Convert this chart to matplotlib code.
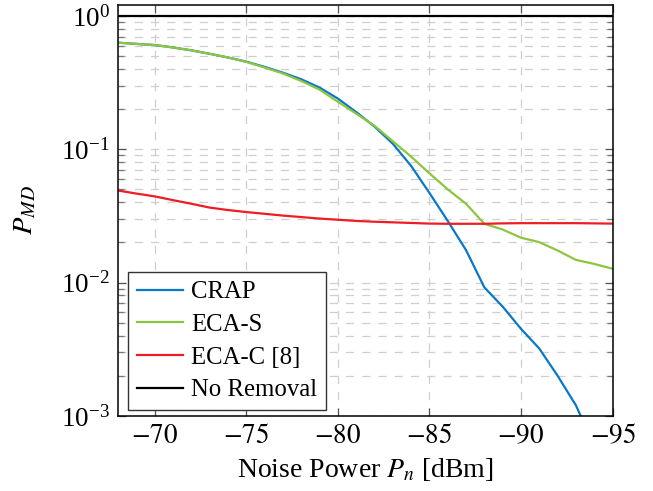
import matplotlib
matplotlib.use("Agg")
import matplotlib.pyplot as plt
from matplotlib.ticker import LogLocator, NullFormatter, FixedLocator

plt.rcParams['font.family'] = ['Liberation Serif', 'DejaVu Serif']
plt.rcParams['mathtext.fontset'] = 'stix'

noise_dbm = [-68, -69, -70, -71, -72, -73, -74, -75, -76, -77, -78, -79, -80, -81,
             -82, -83, -84, -85, -86, -87, -88, -89, -90, -91, -92, -93, -94, -95]

crap = [0.63, 0.617, 0.605, 0.58, 0.552, 0.52, 0.488, 0.454, 0.415, 0.375, 0.335, 0.29,
        0.24, 0.19, 0.148, 0.11, 0.075, 0.047, 0.029, 0.0175, 0.0092, 0.0066, 0.0045,
        0.0032, 0.0020, 0.0012, 0.0006, 0.0003]

eca_s = [0.63, 0.617, 0.605, 0.58, 0.552, 0.52, 0.488, 0.452, 0.41, 0.37, 0.325, 0.28,
         0.227, 0.185, 0.15, 0.115, 0.088, 0.066, 0.05, 0.039, 0.0276, 0.025, 0.0217,
         0.0201, 0.0174, 0.0148, 0.0138, 0.0127]

eca_c = [0.049, 0.0465, 0.0443, 0.0415, 0.039, 0.0365, 0.035, 0.0338, 0.0328, 0.0318,
         0.031, 0.0302, 0.0296, 0.029, 0.0286, 0.0283, 0.028, 0.0277, 0.0276, 0.0276,
         0.0276, 0.0278, 0.0279, 0.0279, 0.0279, 0.0279, 0.0278, 0.0277]

no_removal = [1.0] * len(noise_dbm)

x_ticks = [-70, -75, -80, -85, -90, -95]
x_tick_labels = [r'$-70$', r'$-75$', r'$-80$', r'$-85$', r'$-90$', r'$-95$']

fig = plt.figure(figsize=(6.53, 4.91), dpi=100)
ax = fig.add_axes([0.181, 0.153, 0.757, 0.837])

ax.plot(noise_dbm, crap, color='#0A78C8', lw=1.6, label='CRAP')
ax.plot(noise_dbm, eca_s, color='#8CC63F', lw=1.6, label='ECA-S')
ax.plot(noise_dbm, eca_c, color='#EE1C25', lw=1.6, label='ECA-C [8]')
ax.plot(noise_dbm, no_removal, color='black', lw=1.6, label='No Removal')

ax.set_yscale('log')
ax.set_xlim(-68, -95)
ax.set_ylim(1e-3, 1.21)

ax.xaxis.set_major_locator(FixedLocator(x_ticks))
ax.set_xticklabels(x_tick_labels)
ax.yaxis.set_major_locator(LogLocator(base=10, numticks=10))
ax.yaxis.set_minor_locator(LogLocator(base=10, subs=[2, 3, 4, 5, 6, 7, 8, 9], numticks=20))
ax.yaxis.set_minor_formatter(NullFormatter())

grid_style = dict(color='#cfcfcf', linestyle=(0, (6.5, 6.5)), lw=0.9)
ax.grid(True, which='major', axis='both', **grid_style)
ax.grid(True, which='minor', axis='y', **grid_style)
ax.set_axisbelow(True)

ax.tick_params(axis='both', which='major', direction='in', top=True, right=True,
               length=6, width=0.9, color='#555555', labelsize=19.5, pad=6)
ax.tick_params(axis='y', which='minor', direction='in', left=True, right=True,
               length=4, width=0.9, color='#777777')
for s in ax.spines.values():
    s.set_linewidth(1.1)

ax.set_xlabel(r'Noise Power $P_n$ [dBm]', fontsize=20, labelpad=5)
ax.set_ylabel(r'$P_{MD}$', fontsize=20.5, labelpad=16)

leg = ax.legend(loc='lower left', fontsize=17.8, frameon=True, fancybox=False,
                edgecolor='#333333', framealpha=1, handlelength=1.85, labelspacing=0.42,
                borderpad=0.35, handletextpad=0.35, borderaxespad=0,
                bbox_to_anchor=(0.0202, 0.0146))
leg.get_frame().set_linewidth(1.0)

fig.savefig('out.png', dpi=100)
